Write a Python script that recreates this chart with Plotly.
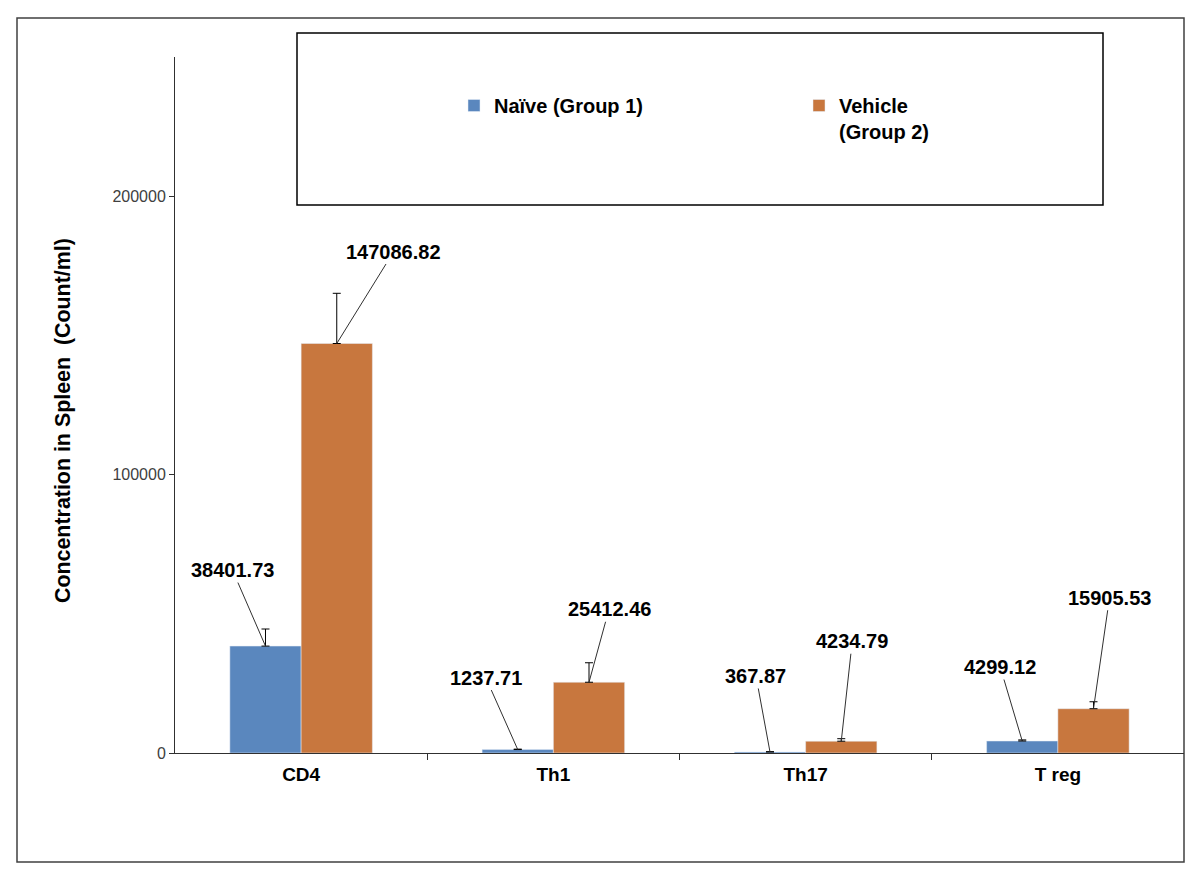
import plotly.graph_objects as go

categories = ["CD4", "Th1", "Th17", "T reg"]
naive_values = [38401.73, 1237.71, 367.87, 4299.12]
vehicle_values = [147086.82, 25412.46, 4234.79, 15905.53]
naive_errors = [6140, 150, 100, 400]
vehicle_errors = [18030, 7000, 900, 2500]
naive_label_text = ["38401.73", "1237.71", "367.87", "4299.12"]
vehicle_label_text = ["147086.82", "25412.46", "4234.79", "15905.53"]
series_names = ["Naïve (Group 1)", "Vehicle<br>(Group 2)"]
y_ticks = [0, 100000, 200000]
y_title = "Concentration in Spleen  (Count/ml)"

# label leader-line offsets (pixels from bar top to label centre) - styling
naive_label_offsets = [(-33, -76), (-32, -72), (-14, -76), (-22, -74)]
vehicle_label_offsets = [(57, -92), (20, -73), (11, -100), (16, -111)]

BLUE = "#5A87BE"
ORANGE = "#C8773E"
FONT = "Liberation Sans, Arial, sans-serif"

# page offset (body margin) compensation
OX, OY = 8, 8
W, H = 1200, 873
ML, MT = 175 - OX, 57 - OY
PW, PH = 1009, 696
MR = W - ML - PW
MB = H - MT - PH
BARGAP = 0.435

def px_x(p):
    return (p - OX - ML) / PW

def px_y(p):
    return (MT + PH - (p - OY)) / PH

xs = list(range(len(categories)))

fig = go.Figure()
fig.add_trace(go.Bar(
    x=xs, y=naive_values, name=series_names[0], marker_color=BLUE,
    error_y=dict(type="data", symmetric=False, array=naive_errors,
                 arrayminus=[0] * len(naive_errors), color="#000000",
                 thickness=1, width=4),
))
fig.add_trace(go.Bar(
    x=xs, y=vehicle_values, name=series_names[1], marker_color=ORANGE,
    error_y=dict(type="data", symmetric=False, array=vehicle_errors,
                 arrayminus=[0] * len(vehicle_errors), color="#000000",
                 thickness=1, width=4),
))

off = (1 - BARGAP) / 4
annotations = []
for i in xs:
    for vals, texts, offs, sign in (
        (naive_values, naive_label_text, naive_label_offsets, -1),
        (vehicle_values, vehicle_label_text, vehicle_label_offsets, 1),
    ):
        annotations.append(dict(
            x=i + sign * off, y=vals[i], xref="x", yref="y",
            text="<b>%s</b>" % texts[i], showarrow=True, arrowhead=0,
            arrowwidth=1, arrowcolor="#303030",
            ax=offs[i][0], ay=offs[i][1],
            font=dict(family=FONT, size=20, color="#000000"),
        ))

# y-axis title (placed as rotated text, slightly below axis centre as in the original)
annotations.append(dict(
    x=px_x(63), y=px_y(421), xref="paper", yref="paper", showarrow=False,
    text="<b>%s</b>" % y_title, textangle=-90, xanchor="center", yanchor="middle",
    font=dict(family=FONT, size=21.4, color="#000000"),
))

shapes = [
    # outer frame
    dict(type="rect", xref="paper", yref="paper",
         x0=px_x(17), x1=px_x(1184), y0=px_y(862), y1=px_y(18),
         line=dict(color="#404040", width=1.5), layer="below"),
    # legend box
    dict(type="rect", xref="paper", yref="paper",
         x0=px_x(297), x1=px_x(1103), y0=px_y(205), y1=px_y(33),
         line=dict(color="#000000", width=1.5), layer="below"),
]

fig.update_layout(
    width=W, height=H,
    margin=dict(l=ML, r=MR, t=MT, b=MB),
    paper_bgcolor="white", plot_bgcolor="white",
    barmode="group", bargap=BARGAP, bargroupgap=0,
    font=dict(family=FONT, color="#000000"),
    showlegend=True,
    legend=dict(
        orientation="h", x=px_x(454), y=px_y(86), xanchor="left", yanchor="top",
        entrywidth=300, entrywidthmode="pixels", valign="top",
        font=dict(family=FONT, size=20, color="#000000", weight="bold"),
        bgcolor="rgba(0,0,0,0)", borderwidth=0, traceorder="normal",
    ),
    annotations=annotations,
    shapes=shapes,
    xaxis=dict(
        tickmode="array", tickvals=xs, ticktext=["<b>%s</b>" % c for c in categories],
        range=[-0.5, len(categories) - 0.5],
        showline=True, linecolor="#303030", linewidth=1,
        ticks="", showgrid=False, zeroline=False, ticklabelstandoff=4,
        tickfont=dict(family=FONT, size=19, color="#000000"),
    ),
    yaxis=dict(
        range=[0, 250000], tickvals=y_ticks, ticktext=[str(v) for v in y_ticks],
        showline=True, linecolor="#303030", linewidth=1,
        ticks="outside", ticklen=5, tickcolor="#303030",
        showgrid=False, zeroline=False,
        tickfont=dict(family=FONT, size=16, color="#404040"),
    ),
)

# category boundary ticks on x axis, drawn via an overlaid axis
fig.update_layout(xaxis2=dict(
    overlaying="x", range=[-0.5, len(categories) - 0.5],
    tickvals=[i + 0.5 for i in xs[:-1]], ticktext=["" for _ in xs[:-1]],
    ticks="outside", ticklen=6, tickcolor="#303030", showgrid=False,
    zeroline=False, showline=False, side="bottom", anchor="y",
))
fig.add_trace(go.Scatter(x=[], y=[], xaxis="x2", showlegend=False, hoverinfo="skip"))

fig.write_html("out.html")
